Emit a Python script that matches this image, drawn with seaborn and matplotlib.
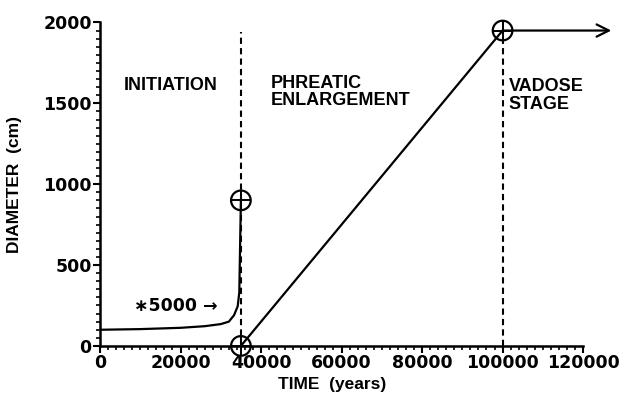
import matplotlib
matplotlib.use("Agg")
import matplotlib.pyplot as plt
from matplotlib.ticker import MultipleLocator
import seaborn as sns
import pandas as pd

# Stage 1: conduit initiation (diameter shown multiplied by 5000)
init_time = [0, 10000, 20000, 26000, 30000, 32000, 33300, 34200, 34600, 35000]
init_diam = [100, 104, 112, 122, 135, 150, 190, 245, 330, 900]

# Stage 2: phreatic enlargement
phreatic_time = [35000, 100000]
phreatic_diam = [0, 1950]

# Stage 3: vadose stage (diameter held constant)
vadose_time = [100000, 127000]
vadose_diam = [1950, 1950]

# Stage boundaries
boundary_time = [35000, 100000]
boundary_top = [1940, 1950]

# Stage transition points
marker_time = [35000, 35000, 100000]
marker_diam = [900, 0, 1950]

x_ticks = [0, 20000, 40000, 60000, 80000, 100000, 120000]
y_ticks = [0, 500, 1000, 1500, 2000]

sns.set_style("ticks")
plt.rcParams["font.family"] = ["DejaVu Sans"]
for key in ("text.color", "axes.labelcolor", "xtick.color", "ytick.color",
            "axes.edgecolor"):
    plt.rcParams[key] = "black"
label_font = ["Liberation Sans", "DejaVu Sans"]

fig = plt.figure(figsize=(6.21, 3.94), dpi=100)
ax = fig.add_axes([0.161, 0.122, 0.778, 0.821])

lw = 1.6
sns.lineplot(x=init_time, y=init_diam, sort=False, estimator=None,
             color="black", linewidth=lw, ax=ax)
sns.lineplot(data=pd.DataFrame({"t": phreatic_time, "d": phreatic_diam}),
             x="t", y="d", color="black", linewidth=lw, ax=ax)

# Boundary lines between stages
for t, top in zip(boundary_time, boundary_top):
    ax.plot([t, t], [0, top], color="black", linewidth=1.5,
            linestyle=(0, (3.0, 2.0)), zorder=2)

# Vadose stage arrow, running past the end of the axis
ax.annotate("", xy=(vadose_time[1], vadose_diam[1]),
            xytext=(vadose_time[0], vadose_diam[0]),
            arrowprops=dict(arrowstyle="->", color="black", lw=lw,
                            mutation_scale=22, shrinkA=0, shrinkB=0),
            annotation_clip=False)

# Circled crosses at the stage transitions
sns.scatterplot(x=marker_time, y=marker_diam, marker="o", s=200,
                facecolor="none", edgecolor="black", linewidth=1.6,
                ax=ax, zorder=4, clip_on=False)
sns.scatterplot(x=marker_time, y=marker_diam, marker="+", s=200,
                color="black", linewidth=1.4, ax=ax, zorder=4, clip_on=False)

txt = dict(fontsize=13, fontweight="bold", family=label_font,
           color="black", va="center", ha="left")
ax.text(6000, 1610, "INITIATION", **txt)
ax.text(42500, 1570, "PHREATIC\nENLARGEMENT", linespacing=1.05, **txt)
ax.text(101500, 1550, "VADOSE\nSTAGE", linespacing=1.05, **txt)
ax.text(8500, 245, "\u22175000 \u2192", fontsize=12.5, fontweight="bold",
        family=["DejaVu Sans"], va="center", ha="left")

ax.set_xlim(0, 120000)
ax.set_ylim(0, 2000)
ax.set_xticks(x_ticks)
ax.set_yticks(y_ticks)
ax.set_xticklabels([str(v) for v in x_ticks])
ax.set_yticklabels([str(v) for v in y_ticks])
ax.xaxis.set_minor_locator(MultipleLocator(2000))
ax.yaxis.set_minor_locator(MultipleLocator(50))
ax.tick_params(axis="both", which="major", length=5, width=1.5,
               direction="out", labelsize=12.5, pad=1,
               bottom=True, left=True)
ax.tick_params(axis="both", which="minor", length=3, width=1.2,
               direction="out", bottom=True, left=True)
for lab in ax.get_xticklabels() + ax.get_yticklabels():
    lab.set_fontweight("bold")

sns.despine(ax=ax)
for side in ("left", "bottom"):
    ax.spines[side].set_linewidth(1.8)
    ax.spines[side].set_color("black")

ax.set_xlabel("TIME  (years)", fontsize=12.5, fontweight="bold",
              family=label_font)
ax.set_ylabel("DIAMETER  (cm)", fontsize=12.5, fontweight="bold",
              family=label_font)
ax.xaxis.set_label_coords(0.48, -0.095)
ax.yaxis.set_label_coords(-0.162, 0.5)

fig.savefig("out.png", dpi=100)
